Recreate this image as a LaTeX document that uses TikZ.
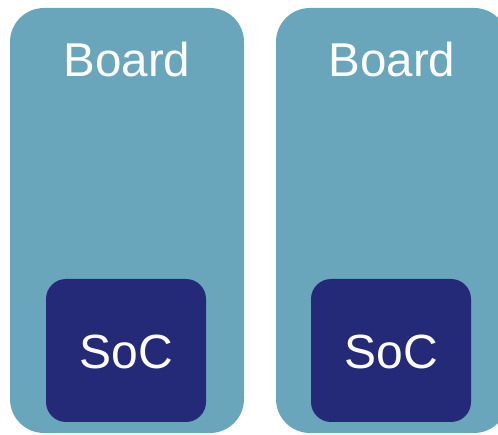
\documentclass[tikz,border=0pt]{standalone}
\usepackage{fontspec}
\setmainfont{Liberation Sans}
\definecolor{boardc}{HTML}{69A5BB}
\definecolor{socc}{HTML}{252A78}
\begin{document}
\begin{tikzpicture}[x=1pt,y=-1pt,
  boardbox/.style={fill=boardc,draw=none,rounded corners=34pt},
  socbox/.style={fill=socc,draw=none,rounded corners=20pt},
  boardlabel/.style={text=white,font=\fontsize{47.5}{52}\selectfont},
  soclabel/.style={text=white,font=\fontsize{48}{52}\selectfont}]
\useasboundingbox (0,0) rectangle (498,435);
\begin{scope}
\clip (0,0) rectangle (498,435);
\path[boardbox] (10,8) rectangle (244,433);
\path[boardbox] (276,8) rectangle (508,433);
\end{scope}
\path[socbox] (46,279) rectangle (206,422);
\path[socbox] (311,279) rectangle (471,422);
\node[boardlabel] (b1) at (127,60) {Board};
\node[boardlabel] (b2) at (392,60) {Board};
\node[soclabel] (s1) at (126,352) {SoC};
\node[soclabel] (s2) at (391,352) {SoC};
\end{tikzpicture}
\end{document}
